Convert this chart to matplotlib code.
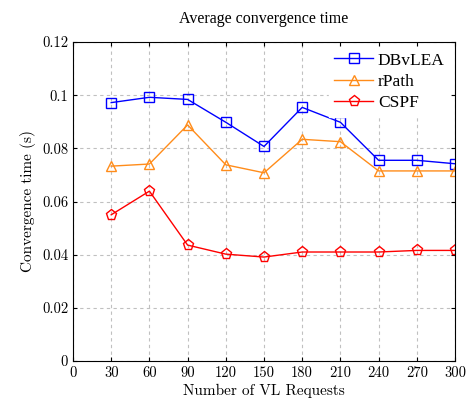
import matplotlib.pyplot as plt

plt.rcParams['font.family'] = ['Liberation Serif', 'DejaVu Serif']
plt.rcParams['axes.formatter.use_mathtext'] = True

requests = [30, 60, 90, 120, 150, 180, 210, 240, 270, 300]
dbvlea = [0.0972, 0.0992, 0.0984, 0.0898, 0.0807, 0.0954, 0.0898, 0.0755, 0.0755, 0.0742]
rpath = [0.0733, 0.0741, 0.0888, 0.0738, 0.0708, 0.0834, 0.0825, 0.0715, 0.0715, 0.0715]
cspf = [0.0550, 0.0639, 0.0436, 0.0402, 0.0391, 0.0410, 0.0410, 0.0410, 0.0416, 0.0416]
xticks = list(range(0, 301, 30))
yticks = [0, 0.02, 0.04, 0.06, 0.08, 0.1, 0.12]
ylabels = ['0', '0.02', '0.04', '0.06', '0.08', '0.1', '0.12']

cm = {'family': 'cmr10'}

fig = plt.figure(figsize=(4.71, 4.0), dpi=100)
ax = fig.add_axes([73/471, 39/400, 382/471, 319/400])

ax.plot(requests, dbvlea, color='blue', marker='s', markersize=7, markerfacecolor='none',
        markeredgewidth=1.0, linewidth=1.0, label='DBvLEA')
ax.plot(requests, rpath, color='#ff8c1a', marker='^', markersize=7, markerfacecolor='none',
        markeredgewidth=1.0, linewidth=1.0, label='rPath')
ax.plot(requests, cspf, color='red', marker='p', markersize=8, markerfacecolor='none',
        markeredgewidth=1.0, linewidth=1.0, label='CSPF')

ax.set_xlim(0, 300)
ax.set_ylim(0, 0.12)
ax.set_xticks(xticks)
ax.set_xticklabels([str(v) for v in xticks], fontdict=cm)
ax.set_yticks(yticks)
ax.set_yticklabels(ylabels, fontdict=cm)
ax.tick_params(direction='in', labelsize=10.5, top=True, right=True, length=3)
ax.grid(True, linestyle=(0, (3, 3)), color='#c0c0c0', linewidth=0.8)
ax.set_axisbelow(True)

ax.set_title('Average convergence time', fontsize=11.5, pad=14)
ax.set_xlabel('Number of VL Requests', fontsize=11, labelpad=3, **cm)
ax.set_ylabel('Convergence time (s)', fontsize=11, **cm)

leg = ax.legend(loc='upper right', bbox_to_anchor=(1.0, 1.0), fontsize=12.5, frameon=True,
                fancybox=False, edgecolor='white', framealpha=1, handlelength=2.2,
                handletextpad=0.3, labelspacing=0.3, borderpad=0.3, borderaxespad=0.3)

fig.savefig('out.png', dpi=100)
